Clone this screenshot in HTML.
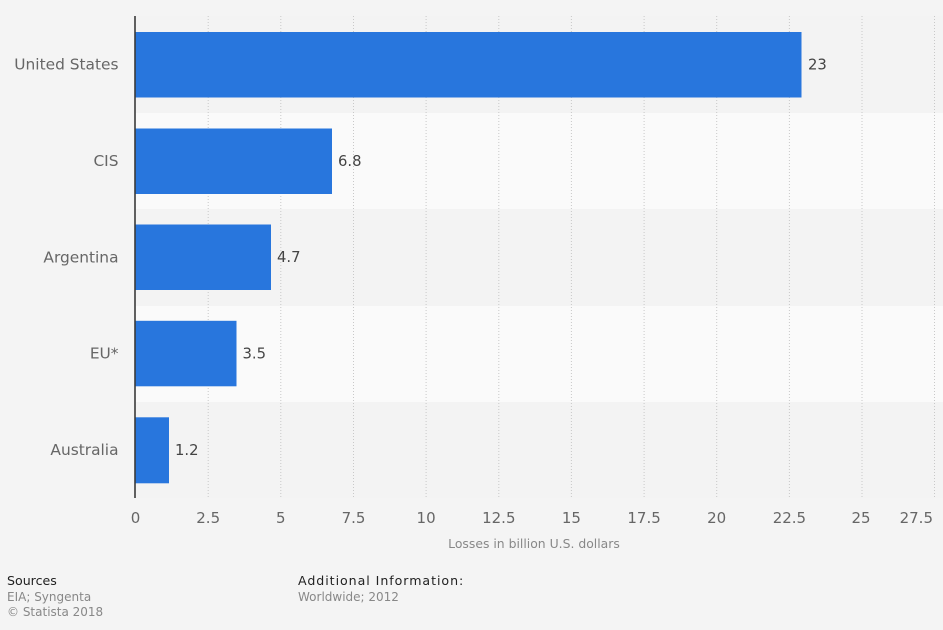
<!DOCTYPE html>
<html>
<head>
<meta charset="utf-8">
<style>
  html, body { margin:0; padding:0; background:#f4f4f4; }
  body { width:943px; height:630px; overflow:hidden; font-family:"DejaVu Sans","Liberation Sans",sans-serif; }
  svg { display:block; }
</style>
</head>
<body>
<svg width="943" height="630" viewBox="0 0 943 630" xmlns="http://www.w3.org/2000/svg" font-family="DejaVu Sans, Liberation Sans, sans-serif">
  <rect x="0" y="0" width="943" height="630" fill="#f4f4f4"/>
  <!-- bands -->
  <rect x="135" y="16" width="808" height="97" fill="#f3f3f3"/>
  <rect x="135" y="113" width="808" height="96" fill="#fafafa"/>
  <rect x="135" y="209" width="808" height="97" fill="#f3f3f3"/>
  <rect x="135" y="306" width="808" height="96" fill="#fafafa"/>
  <rect x="135" y="402" width="808" height="96" fill="#f3f3f3"/>
  <!-- gridlines -->
  <g stroke="#c8c8c8" stroke-width="1" stroke-dasharray="1,2">
    <line x1="208.2" y1="16" x2="208.2" y2="498"/>
    <line x1="280.8" y1="16" x2="280.8" y2="498"/>
    <line x1="353.5" y1="16" x2="353.5" y2="498"/>
    <line x1="426.1" y1="16" x2="426.1" y2="498"/>
    <line x1="498.8" y1="16" x2="498.8" y2="498"/>
    <line x1="571.4" y1="16" x2="571.4" y2="498"/>
    <line x1="644.1" y1="16" x2="644.1" y2="498"/>
    <line x1="716.7" y1="16" x2="716.7" y2="498"/>
    <line x1="789.4" y1="16" x2="789.4" y2="498"/>
    <line x1="862" y1="16" x2="862" y2="498"/>
    <line x1="934.5" y1="16" x2="934.5" y2="498"/>
  </g>
  <!-- bars -->
  <g fill="#2876dd">
    <rect x="135" y="32" width="666.5" height="65.5"/>
    <rect x="135" y="128.5" width="197" height="65.5"/>
    <rect x="135" y="224.5" width="136" height="65.5"/>
    <rect x="135" y="320.8" width="101.5" height="65.5"/>
    <rect x="135" y="417.3" width="34" height="66"/>
  </g>
  <!-- axis line -->
  <line x1="135" y1="16" x2="135" y2="498" stroke="#3a3a3a" stroke-width="1.6"/>
  <!-- value labels -->
  <g fill="#444" font-size="14.8">
    <text x="808" y="69.5">23</text>
    <text x="338" y="166">6.8</text>
    <text x="277" y="262">4.7</text>
    <text x="242.5" y="358.5">3.5</text>
    <text x="175" y="455">1.2</text>
  </g>
  <!-- category labels -->
  <g fill="#666" font-size="15.4" text-anchor="end">
    <text x="118.5" y="69.5">United States</text>
    <text x="118.5" y="166">CIS</text>
    <text x="118.5" y="262.5">Argentina</text>
    <text x="118.5" y="358.5">EU*</text>
    <text x="118.5" y="455">Australia</text>
  </g>
  <!-- tick labels -->
  <g fill="#666" font-size="15" text-anchor="middle">
    <text x="135.5" y="523">0</text>
    <text x="208.2" y="523">2.5</text>
    <text x="280.8" y="523">5</text>
    <text x="353.5" y="523">7.5</text>
    <text x="426.1" y="523">10</text>
    <text x="498.8" y="523">12.5</text>
    <text x="571.4" y="523">15</text>
    <text x="644.1" y="523">17.5</text>
    <text x="716.7" y="523">20</text>
    <text x="789.4" y="523">22.5</text>
    <text x="861" y="523">25</text>
    <text x="933" y="523" text-anchor="end">27.5</text>
  </g>
  <text x="534" y="548" fill="#888" font-size="12.4" text-anchor="middle">Losses in billion U.S. dollars</text>
  <!-- footer -->
  <text x="7" y="585" fill="#222" font-size="12.6">Sources</text>
  <text x="7" y="601" fill="#888" font-size="12">EIA; Syngenta</text>
  <text x="7" y="616" fill="#888" font-size="12">© Statista 2018</text>
  <text x="298" y="585" fill="#222" font-size="12.6" letter-spacing="0.95">Additional Information:</text>
  <text x="298" y="601" fill="#888" font-size="12">Worldwide; 2012</text>
</svg>
</body>
</html>
